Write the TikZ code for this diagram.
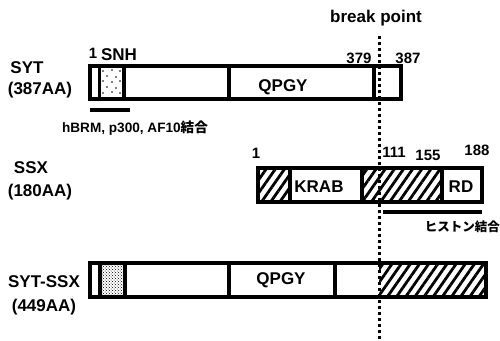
\documentclass[tikz,border=0pt]{standalone}
\usepackage{fontspec}
\setmainfont{Liberation Sans}
\newfontfamily\cjk{Noto Sans CJK JP}
\usetikzlibrary{patterns,patterns.meta}
\tikzset{
  lbl/.style={font=\fontsize{17}{19}\selectfont\bfseries, inner sep=0pt},
  num/.style={font=\fontsize{15}{17}\selectfont\bfseries, inner sep=0pt},
  note/.style={font=\fontsize{13.6}{15}\selectfont\bfseries, inner sep=0pt},
  barline/.style={line width=3.2pt},
  hatch/.style={pattern={Lines[angle=55,distance=7.5pt,line width=2.8pt]}},
  bp/.style={line width=3pt, dash pattern=on 3pt off 3pt}
}
\begin{document}
\begin{tikzpicture}[x=1pt,y=-1pt]
\useasboundingbox (0,0) rectangle (500,340);
\fill[white] (0,0) rectangle (500,340);
% ---- SYT ----
\node[lbl] (sytn) at (27,68) {SYT};
\node[lbl] (sytaa) at (40,90) {(387AA)};
\foreach \px/\py in {103/71,112/70,120/71,107/76,116/77,103/81,112/82,120/81,107/87,116/88,103/93,112/92,120/93}
  \fill (\px,\py) circle (0.8pt);
\draw[barline] (90,66) rectangle (401,99);
\draw[barline] (99.5,66) -- (99.5,99);
\draw[barline] (124,66) -- (124,99);
\draw[barline] (229,66) -- (229,99);
\draw[barline] (374,66) -- (374,99);
\node[num] (s1) at (93,53) {1};
\node[lbl] (snh) at (119,55) {SNH};
\node[num] (s379) at (359,58) {379};
\node[num] (s387) at (408,58) {387};
\node[lbl] (qpgy1) at (283,87) {QPGY};
\coordinate (ua) at (90,110);
\coordinate (ub) at (130,110);
\draw[barline] (ua) -- (ub);
\node[note] (bind1) at (135,128) {hBRM, p300, AF10{\cjk\bfseries 結合}};
% ---- SSX ----
\node[lbl] (ssxn) at (31,168) {SSX};
\node[lbl] (ssxaa) at (40,192) {(180AA)};
\fill[white] (258,168) rectangle (482,202);
\path[hatch] (258,168) rectangle (290,202);
\path[hatch] (362,168) rectangle (442,202);
\draw[barline] (258,168) rectangle (482,202);
\draw[barline] (290,168) -- (290,202);
\draw[barline] (362,168) -- (362,202);
\draw[barline] (442,168) -- (442,202);
\node[lbl] (krab) at (319,187) {KRAB};
\node[lbl] (rd) at (461,187) {RD};
\node[num] (x1) at (256,153) {1};
\node[num] (x111) at (394,152) {111};
\node[num] (x155) at (428,155) {155};
\node[num] (x188) at (477,150) {188};
\coordinate (ha) at (383,212);
\coordinate (hb) at (482,212);
\draw[barline] (ha) -- (hb);
\node[font=\fontsize{12.5}{14}\selectfont\cjk\bfseries, inner sep=0pt, anchor=east] (hist) at (500,227) {ヒストン結合};
% ---- SYT-SSX ----
\node[lbl] (fusn) at (44,282) {SYT-SSX};
\node[lbl] (fusaa) at (44,307) {(449AA)};
\path[pattern=crosshatch dots] (100,263) rectangle (125,297);
\path[hatch] (379,263) rectangle (486,297);
\draw[barline] (90,263) rectangle (486,297);
\draw[barline] (100,263) -- (100,297);
\draw[barline] (125,263) -- (125,297);
\draw[barline] (229,263) -- (229,297);
\draw[barline] (335,263) -- (335,297);
\node[lbl] (qpgy2) at (281,280) {QPGY};
% ---- break point ----
\node[lbl] (bpt) at (376,18) {break point};
\coordinate (bptop) at (379,36);
\coordinate (bpbot) at (379,340);
\draw[bp] (bptop) -- (bpbot);
\end{tikzpicture}
\end{document}
